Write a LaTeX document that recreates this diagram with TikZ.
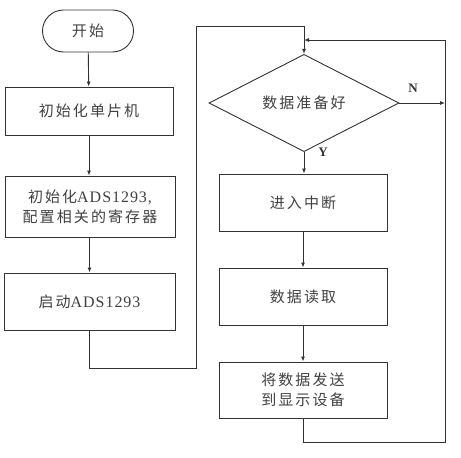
\documentclass[tikz,border=0pt]{standalone}
\usepackage{fontspec}
\setmainfont{Liberation Serif}
\newfontfamily\cjk[LetterSpace=14]{Noto Sans CJK SC}
\newfontfamily\lat[LetterSpace=6]{Liberation Serif}
\usetikzlibrary{shapes.geometric,arrows.meta}
\tikzset{
  ln/.style={draw=black!80,line width=0.9pt},
  arr/.style={ln,-{Latex[length=5pt,width=4pt]}},
  boxn/.style={ln,rectangle,minimum width=168pt,inner sep=2pt,align=center,text=black!75,font=\cjk\fontsize{15pt}{20pt}\selectfont},
  termn/.style={ln,rectangle,rounded corners=21pt,minimum width=91pt,minimum height=42pt,text=black!75,font=\cjk\fontsize{15pt}{20pt}\selectfont},
  decn/.style={ln,diamond,minimum width=190pt,minimum height=68pt,inner sep=0pt,text=black!75,font=\cjk\fontsize{15pt}{20pt}\selectfont},
  lbl/.style={text=black!80,font=\bfseries\fontsize{13pt}{15pt}\selectfont}
}
\begin{document}
\begin{tikzpicture}[x=1pt,y=-1pt]
\useasboundingbox (0,0) rectangle (461,458);
\node[termn] (start) at (88,31) {开始};
\node[boxn,minimum height=48pt] (init1) at (89,111) {初始化单片机};
\node[boxn,minimum width=170pt,minimum height=61pt] (init2) at (90,206.5) {初始化{\lat\fontsize{16pt}{20pt}\selectfont ADS1293,}\\配置相关的寄存器};
\node[boxn,minimum width=171pt,minimum height=57pt] (init3) at (89.5,301.5) {启动{\lat\fontsize{16pt}{20pt}\selectfont ADS1293}};
\node[decn] (dia) at (304,103) {数据准备好};
\node[boxn,minimum height=57pt] (int) at (303,202.5) {进入中断};
\node[boxn,minimum height=57pt] (read) at (303,296.5) {数据读取};
\node[boxn,minimum height=56pt] (send) at (303,390) {将数据发送\\到显示设备};
\coordinate (c1) at (89.5,368);
\coordinate (c2) at (196,368);
\coordinate (c3) at (196,26);
\coordinate (c4) at (304,26);
\coordinate (r1) at (303,442);
\coordinate (r2) at (445,442);
\coordinate (r3) at (445,40);
\coordinate (r4) at (304,40);
\coordinate (nEnd) at (445,103);
\draw[arr] (start) -- (init1);
\draw[arr] (init1) -- (init1 |- init2.north);
\draw[arr] (init2.south -| init3) -- (init3);
\draw[ln] (init3) -- (c1) -- (c2) -- (c3) -- (c4);
\draw[arr] (c4) -- (dia.north);
\draw[arr] (dia.south) -- (dia.south |- int.north);
\draw[arr] (int) -- (read);
\draw[arr] (read) -- (send);
\draw[ln] (send) -- (r1) -- (r2) -- (r3);
\draw[arr] (r3) -- (r4);
\draw[arr] (dia.east) -- (nEnd);
\node[lbl] (nlab) at (413,88) {N};
\node[lbl] (ylab) at (323,152) {Y};
\end{tikzpicture}
\end{document}
